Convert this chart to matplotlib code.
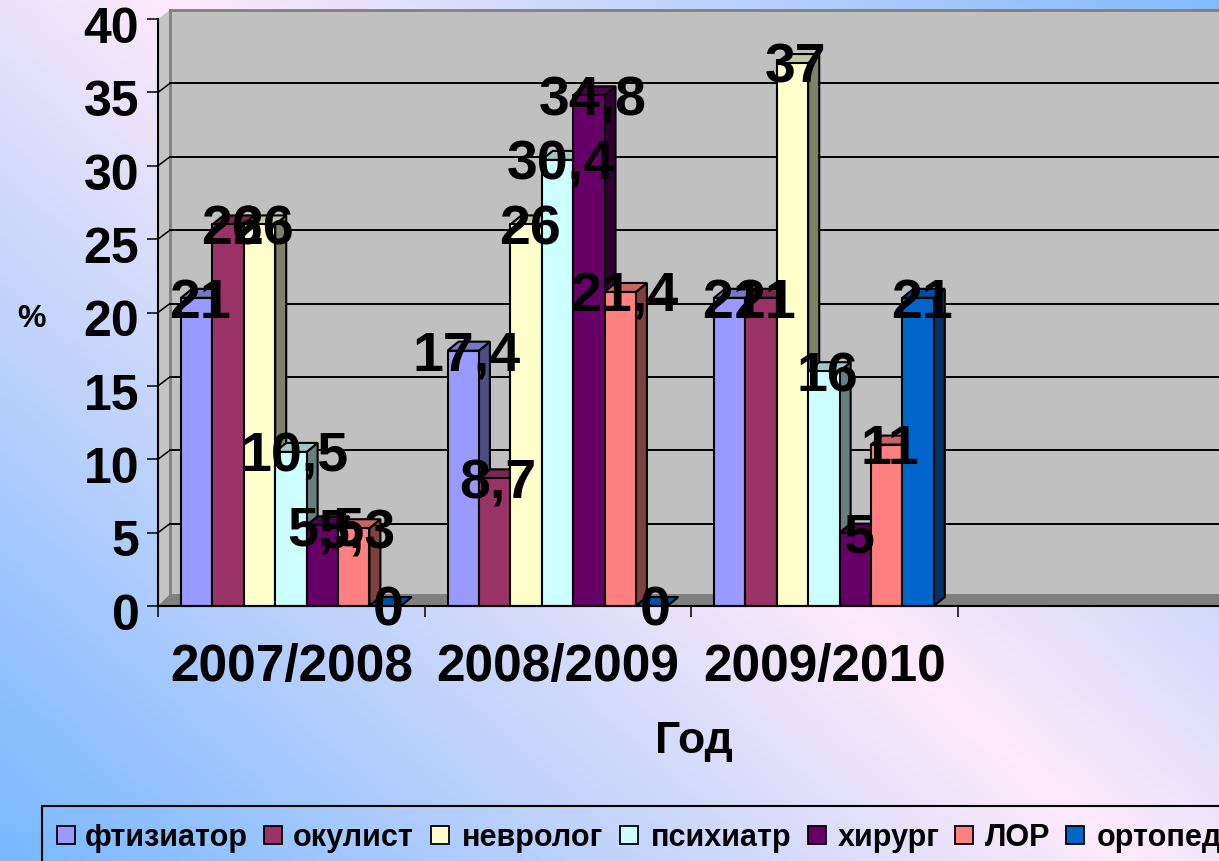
import numpy as np
import matplotlib
matplotlib.use('Agg')
import matplotlib.pyplot as plt
from matplotlib.colors import to_rgb
from matplotlib.patches import Polygon, Rectangle
from matplotlib.transforms import ScaledTranslation

plt.rcParams['font.family'] = ['Liberation Sans', 'DejaVu Sans']
plt.rcParams['font.weight'] = 'bold'

years = ['2007/2008', '2008/2009', '2009/2010']
doctors = ['фтизиатор', 'окулист', 'невролог', 'психиатр', 'хирург', 'ЛОР', 'ортопед']
ftiziatr = [21, 17.4, 21]
okulist = [26, 8.7, 21]
nevrolog = [26, 26, 37]
psihiatr = [10.5, 30.4, 16]
hirurg = [5.5, 34.8, 5]
lor = [5.3, 21.4, 11]
ortoped = [0, 0, 21]
series = [ftiziatr, okulist, nevrolog, psihiatr, hirurg, lor, ortoped]
colors = ['#9999ff', '#993366', '#ffffcc', '#ccffff', '#660066', '#ff8080', '#0066cc']
y_ticks = [0, 5, 10, 15, 20, 25, 30, 35, 40]

W, H = 1219, 862
fig = plt.figure(figsize=(W / 100, H / 100), dpi=100)

# background: pink along a diagonal band, blue towards the two other corners
bg = fig.add_axes([0, 0, 1, 1])
px, py = np.meshgrid(np.linspace(0, W, 400), np.linspace(0, H, 300))
u = np.clip(np.abs((px - 170) * 0.9 - py) / 1015, 0, 1)[..., None]
pink = np.array(to_rgb('#fdeaf9'))
blue = np.array(to_rgb('#78b8ff'))
bg.imshow(pink * (1 - u) + blue * u, aspect='auto', extent=[0, W, H, 0], interpolation='bilinear')
bg.set_axis_off()

# plot area in pixels
left, right, bottom, top = 158, 1219, 607, 20
ax = fig.add_axes([left / W, 1 - bottom / H, (right - left) / W, (bottom - top) / H])
ax.patch.set_visible(False)
ax.set_xlim(0, (right - left) / 266.5)
ax.set_ylim(0, 40)
y_px = (bottom - top) / 40
wall_dx = 12 / 266.5
bar_dx = 11 / 266.5
dy = 9 / y_px
floor_dy = 12 / y_px
xmax = ax.get_xlim()[1] + 0.1


def shade(color, k):
    return tuple(c * k for c in to_rgb(color))


def poly(points, face, edge='black', lw=1.5, z=2):
    ax.add_patch(Polygon(points, closed=True, facecolor=face, edgecolor=edge, linewidth=lw,
                         zorder=z, clip_on=False, joinstyle='miter'))


# 3d walls
poly([(wall_dx, 0), (xmax, 0), (xmax, 40 + dy), (wall_dx, 40 + dy)], '#c0c0c0', edge='none', z=1)
poly([(0, 0), (wall_dx, floor_dy), (wall_dx, 40 + dy), (0, 40)], '#c4c4c4', edge='none', z=1)
poly([(0, 0), (xmax, 0), (xmax, floor_dy), (wall_dx, floor_dy)], '#808080', edge='none', z=1.2)
ax.plot([wall_dx, xmax], [40 + dy, 40 + dy], color='#808080', lw=2, zorder=1, clip_on=False)
ax.plot([wall_dx, wall_dx], [floor_dy, 40 + dy], color='#808080', lw=2, zorder=1, clip_on=False)
for t in y_ticks:
    if 0 < t < 40:
        ax.plot([wall_dx, xmax], [t + dy, t + dy], color='black', lw=1.4, zorder=1.5, clip_on=False)
        ax.plot([0, wall_dx], [t, t + dy], color='black', lw=1.1, zorder=1.5, clip_on=False)

# bars
bw = 0.1178
gap = 0.0865
for g in range(len(years)):
    for i, values in enumerate(series):
        v = values[g]
        x0 = g + gap + i * bw
        x1 = x0 + bw
        z = 3 + g + i * 0.01
        if v > 0:
            ax.bar(x0, v, width=bw, align='edge', color=colors[i], edgecolor='black',
                   linewidth=1.5, zorder=z + 0.002, clip_on=False)
            poly([(x1, 0), (x1 + bar_dx, dy), (x1 + bar_dx, v + dy), (x1, v)], shade(colors[i], 0.5), z=z)
        poly([(x0, v), (x0 + bar_dx, v + dy), (x1 + bar_dx, v + dy), (x1, v)], shade(colors[i], 0.78), z=z + 0.001)

# data labels go over everything
for g in range(len(years)):
    for i, values in enumerate(series):
        v = values[g]
        x0 = g + gap + i * bw
        txt = str(v).replace('.', ',')
        ax.annotate(txt, (x0 + bw / 2, v), xytext=(2.5, -3.5), textcoords='offset points',
                    ha='center', va='center', fontsize=40, color='black', zorder=20,
                    annotation_clip=False)

# axes
for s in ['top', 'right']:
    ax.spines[s].set_visible(False)
for s in ['left', 'bottom']:
    ax.spines[s].set_linewidth(1.5)
    ax.spines[s].set_zorder(10)
ax.set_yticks(y_ticks)
ax.set_yticklabels([str(t) for t in y_ticks], fontsize=36, fontweight='bold')
ax.set_xticks([0, 1, 2, 3])
ax.set_xticklabels([])
ax.set_xticks([0.5, 1.5, 2.5], minor=True)
ax.set_xticklabels(years, minor=True, fontsize=37, fontweight='bold')
ax.tick_params(axis='x', which='major', length=8, width=1.1)
ax.tick_params(axis='x', which='minor', length=0, pad=26)
ax.tick_params(axis='y', length=8, width=1.1, pad=5.5)

# y tick labels sit a little under their ticks
nudge = ScaledTranslation(0, -3.5 / 72, fig.dpi_scale_trans)
for label in ax.get_yticklabels():
    label.set_transform(label.get_transform() + nudge)

fig.text(32 / W, 1 - 319 / H, '%', fontsize=23, ha='center', va='center')
fig.text(694 / W, 1 - 742 / H, 'Год', fontsize=32, ha='center', va='center')

# legend box runs off the slide, so it is laid out by hand
fig.add_artist(Rectangle((42 / W, 1 - 880 / H), 1300 / W, 73 / H, transform=fig.transFigure,
                         facecolor='none', edgecolor='black', linewidth=1.5))
swatch_x = [57, 264, 431, 620, 808, 955, 1066]
label_x = [85, 293, 462, 651, 838, 985, 1097]
for i, name in enumerate(doctors):
    fig.add_artist(Rectangle((swatch_x[i] / W, 1 - 845 / H), 18 / W, 18 / H, transform=fig.transFigure,
                             facecolor=colors[i], edgecolor='black', linewidth=1.3))
    fig.text(label_x[i] / W, 1 - 838 / H, name, fontsize=22, va='center', ha='left')

fig.savefig('out.png', dpi=100)
